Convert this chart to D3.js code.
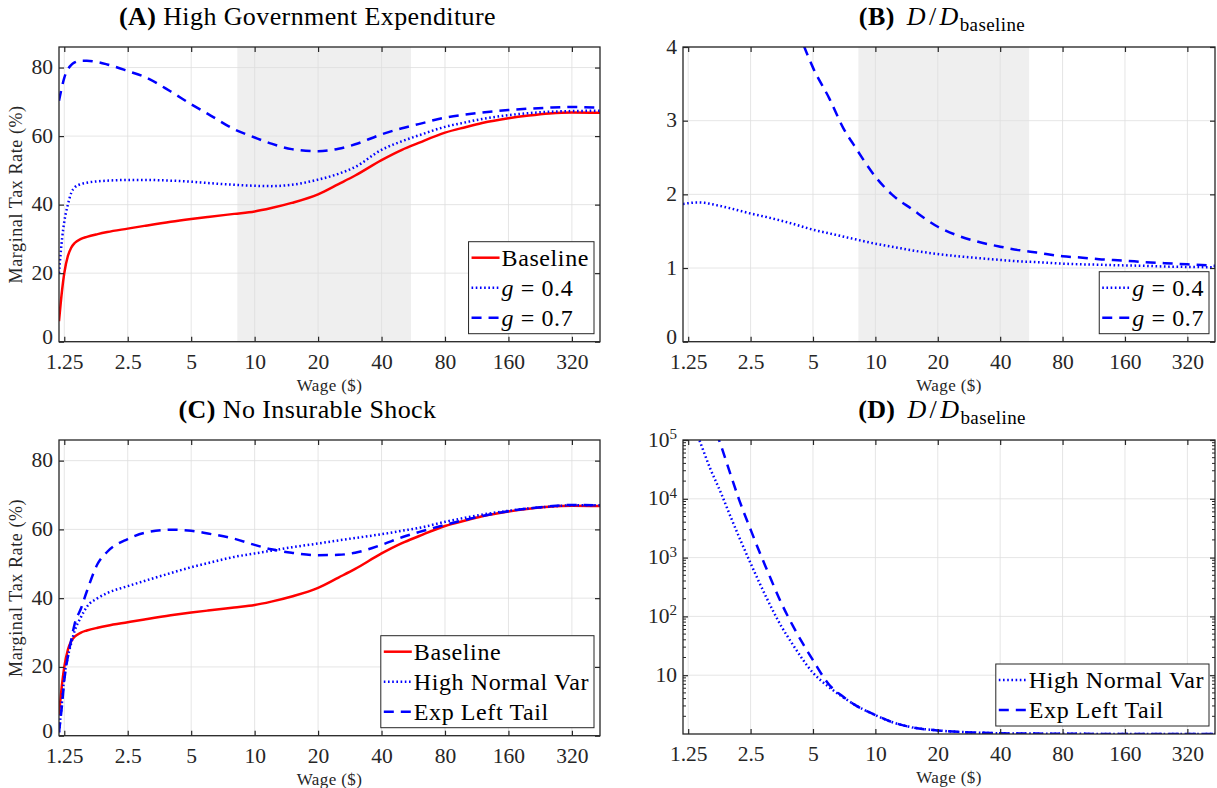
<!DOCTYPE html>
<html>
<head>
<meta charset="utf-8">
<script src="https://cdn.jsdelivr.net/npm/d3@7"></script>
<style>
  body { margin: 0; background: #fff; }
  svg text { font-family: "Liberation Serif", "DejaVu Serif", serif; fill: #262626; }
</style>
</head>
<body>
<svg id="fig" width="1217" height="788"></svg>
<script>
// ---- data ----
var xTicks = [1.25, 2.5, 5, 10, 20, 40, 80, 160, 320];
var xTickLabels = ["1.25", "2.5", "5", "10", "20", "40", "80", "160", "320"];
var shadeRange = [8.28, 55.2];

// common wage grid for panels A and C, and the g=0.4 line in B
var wage = [1.18, 1.22, 1.25, 1.3, 1.35, 1.4, 1.5, 1.6, 1.8, 2, 2.5, 3, 4, 5, 6, 8, 10, 12, 15, 20,
            25, 30, 40, 50, 60, 80, 100, 120, 160, 200, 250, 320, 435];

// (A) marginal tax rates, %
var baseline = [6, 15, 20, 25, 27.5, 28.8, 30, 30.6, 31.4, 32, 33, 33.8, 35, 35.8, 36.4, 37.3, 38, 39, 40.5, 43,
                46, 48.5, 53, 56, 58, 61, 62.6, 63.8, 65.2, 66, 66.6, 66.9, 66.8];
var g04 = [20, 30, 35, 40, 43.5, 45, 46, 46.4, 46.8, 47, 47.2, 47.2, 47, 46.7, 46.3, 45.8, 45.5, 45.4, 45.8, 47.3,
           49, 51, 56, 58.5, 60.2, 62.7, 64, 65, 66.1, 66.7, 67.1, 67.3, 67.4];
var g07 = [70.3, 74.5, 77, 79.5, 80.8, 81.5, 82, 82, 81.6, 80.9, 79, 77.3, 73, 69.3, 66.5, 62, 59.6, 57.8, 56.2, 55.6,
           56.3, 57.6, 60.5, 62.3, 63.5, 65.4, 66.3, 66.9, 67.6, 68, 68.3, 68.5, 68.3];

// (B) D / D_baseline
var ratioG04 = [1.87, 1.875, 1.88, 1.885, 1.89, 1.89, 1.885, 1.87, 1.84, 1.81, 1.74, 1.69, 1.6, 1.52, 1.47, 1.39, 1.33, 1.29, 1.24, 1.19,
                1.16, 1.14, 1.11, 1.09, 1.08, 1.06, 1.05, 1.045, 1.035, 1.03, 1.02, 1.015, 1.01];
var wageG07 = [4, 4.5, 5, 6, 7, 8, 10, 12, 15, 20, 25, 30, 40, 50, 60, 80, 100, 120, 160, 200, 250, 320, 435];
var ratioG07 = [4.45, 4.03, 3.72, 3.3, 2.9, 2.64, 2.24, 2.0, 1.8, 1.56, 1.44, 1.37, 1.29, 1.24, 1.21, 1.16, 1.14, 1.12, 1.1, 1.08, 1.065, 1.05, 1.03];

// (C) marginal tax rates, %
var highVar = [1, 10, 17, 23, 27, 30.5, 34.5, 37.5, 40, 41.5, 43.5, 45, 47.3, 49, 50.2, 52, 53, 53.8, 54.8, 55.9,
               56.8, 57.5, 58.6, 59.6, 60.4, 62.2, 63.4, 64.3, 65.4, 66.1, 66.6, 67, 67];
var expLeft = [1, 9, 16, 23, 28, 32.5, 37, 42, 50, 53.5, 57.2, 59, 59.9, 59.6, 58.8, 57.3, 55.5, 54.2, 53.2, 52.5,
               52.6, 53.2, 55.5, 57.7, 59.2, 61.3, 62.8, 63.9, 65.3, 66.1, 66.7, 67.1, 67];

// (D) D / D_baseline, log scale
var wageHV = [1.3, 1.4, 1.6, 1.8, 2, 2.5, 3, 3.5, 4, 5, 6, 7, 8, 10, 12, 15, 20, 30, 40, 60, 80, 160, 435];
var ratioHV = [2.1e5, 1.1e5, 3.2e4, 1.25e4, 5e3, 800, 200, 70, 33, 11, 6.2, 4.2, 3.1, 2.1, 1.6, 1.3, 1.15, 1.06, 1.03, 1.015, 1.01, 1.0, 1.0];
var wageEL = [1.6, 1.8, 2, 2.2, 2.5, 2.8, 3, 3.5, 4, 4.5, 5, 6, 7, 8, 10, 12, 15, 20, 30, 40, 60, 80, 160, 435];
var ratioEL = [2.5e5, 8e4, 2.6e4, 9.7e3, 3e3, 1.1e3, 620, 175, 69, 33, 18, 6.8, 4.3, 3.1, 2.1, 1.6, 1.3, 1.15, 1.06, 1.03, 1.015, 1.01, 1.0, 1.0];

var logTicks = [10, 100, 1000, 10000, 100000];

// ---- styles ----
var RED = "#ff0000", BLUE = "#0000ff", AX = "#262626", GRID = "#dedede", SHADE = "#efefef";
var styles = {
  solid:  { color: RED,  width: 2.5, dash: null },
  dotted: { color: BLUE, width: 2.5, dash: "1.6,2.6" },
  dashed: { color: BLUE, width: 2.5, dash: "10,7" }
};

var svg = d3.select("#fig");
var clipId = 0;

function zip(xs, ys) {
  return xs.map(function(d, i) { return [d, ys[i]]; });
}

function drawPanel(o) {
  var x = d3.scaleLog().base(2).domain([1.18, 435]).range([o.left, o.right]);
  var y = o.log ? d3.scaleLog().domain(o.yDomain).range([o.bottom, o.top])
                : d3.scaleLinear().domain(o.yDomain).range([o.bottom, o.top]);
  var g = svg.append("g");
  var id = "clip" + (clipId++);
  g.append("clipPath").attr("id", id).append("rect")
    .attr("x", o.left).attr("y", o.top)
    .attr("width", o.right - o.left).attr("height", o.bottom - o.top);

  if (o.shade) {
    g.append("rect")
      .attr("x", x(shadeRange[0])).attr("y", o.top)
      .attr("width", x(shadeRange[1]) - x(shadeRange[0]))
      .attr("height", o.bottom - o.top)
      .attr("fill", SHADE);
  }

  // grid
  g.selectAll(".gx").data(xTicks).enter().append("line")
    .attr("x1", function(d) { return x(d); }).attr("x2", function(d) { return x(d); })
    .attr("y1", o.top).attr("y2", o.bottom)
    .attr("stroke", GRID).attr("stroke-opacity", 0.8).attr("stroke-width", 1);
  g.selectAll(".gy").data(o.yTicks).enter().append("line")
    .attr("x1", o.left).attr("x2", o.right)
    .attr("y1", function(d) { return y(d); }).attr("y2", function(d) { return y(d); })
    .attr("stroke", GRID).attr("stroke-opacity", 0.8).attr("stroke-width", 1);

  // data lines
  var line = d3.line()
    .x(function(d) { return x(d[0]); })
    .y(function(d) { return y(d[1]); })
    .curve(d3.curveMonotoneX);
  var lg = g.append("g").attr("clip-path", "url(#" + id + ")");
  o.series.forEach(function(s) {
    var st = styles[s.style];
    lg.append("path")
      .datum(zip(s.x, s.y))
      .attr("d", line)
      .attr("fill", "none")
      .attr("stroke", st.color)
      .attr("stroke-width", st.width)
      .attr("stroke-dasharray", st.dash)
      .attr("stroke-linejoin", "round");
  });

  // axes (ticks pointing inward, MATLAB style)
  var xa = g.append("g").attr("transform", "translate(0," + o.bottom + ")")
    .call(d3.axisBottom(x).tickValues(xTicks)
      .tickFormat(function(d, i) { return xTickLabels[i]; })
      .tickSizeInner(-5).tickSizeOuter(0).tickPadding(12));
  xa.selectAll("text").style("font-size", "21.5px").style("fill", AX);
  g.append("g").attr("transform", "translate(0," + o.top + ")")
    .call(d3.axisTop(x).tickValues(xTicks).tickFormat("").tickSizeInner(-5).tickSizeOuter(0));

  var ya = g.append("g").attr("transform", "translate(" + o.left + ",0)")
    .call(d3.axisLeft(y).tickValues(o.yTicks).tickFormat("")
      .tickSizeInner(-5).tickSizeOuter(0));
  g.append("g").attr("transform", "translate(" + o.right + ",0)")
    .call(d3.axisRight(y).tickValues(o.yTicks).tickFormat("").tickSizeInner(-5).tickSizeOuter(0));

  // y tick labels (allow superscripts for the log panel); the lowest one sits a touch higher
  ya.selectAll(".tick").each(function(d, i) {
    var t = d3.select(this).append("text")
      .attr("x", -6).attr("dy", i === 0 && !o.log ? "0.1em" : "0.28em")
      .attr("text-anchor", "end")
      .style("font-size", "21.5px").style("fill", AX);
    var lab = o.yLabels[i];
    if (lab.exp) {
      t.append("tspan").text(lab.base);
      t.append("tspan").attr("dy", "-0.5em").style("font-size", "15px").text(lab.exp);
    } else {
      t.text(lab);
    }
  });

  if (o.log) {
    var minor = [];
    [1, 10, 100, 1000, 10000].forEach(function(dec) {
      for (var k = 2; k <= 9; k++) minor.push(dec * k);
    });
    [o.left, o.right].forEach(function(px, side) {
      g.selectAll(null).data(minor).enter().append("line")
        .attr("x1", px).attr("x2", px + (side ? -3 : 3))
        .attr("y1", function(d) { return y(d); }).attr("y2", function(d) { return y(d); })
        .attr("stroke", AX).attr("stroke-width", 1);
    });
  }

  g.selectAll(".domain").remove();
  g.selectAll(".tick line").attr("stroke", AX).attr("stroke-width", 1.2);

  g.append("rect")
    .attr("x", o.left).attr("y", o.top)
    .attr("width", o.right - o.left).attr("height", o.bottom - o.top)
    .attr("fill", "none").attr("stroke", AX).attr("stroke-width", 1.3);

  // axis labels
  g.append("text")
    .attr("x", (o.left + o.right) / 2).attr("y", o.bottom + 49)
    .attr("text-anchor", "middle").style("font-size", "17px")
    .style("letter-spacing", "0.4px")
    .text("Wage ($)");
  if (o.yTitle) {
    g.append("text")
      .attr("transform", "translate(22," + ((o.top + o.bottom) / 2) + ") rotate(-90)")
      .attr("text-anchor", "middle").style("font-size", "18px")
      .style("letter-spacing", "0.6px")
      .text(o.yTitle);
  }

  // title
  var tt = g.append("text")
    .attr("x", (o.left + o.right) / 2 + o.titleShift).attr("y", o.top - 22)
    .attr("text-anchor", "middle").style("font-size", "26px").style("fill", "#000")
    .style("letter-spacing", "0.4px");
  o.title.forEach(function(p) {
    var ts = tt.append("tspan").text(p.t);
    if (p.b) ts.style("font-weight", "bold");
    if (p.i) ts.style("font-style", "italic");
    if (p.dx) ts.attr("dx", p.dx);
    if (p.sub) ts.attr("dy", "0.3em").style("font-size", "19px");
  });

  // legend
  var leg = g.append("g");
  var rowH = 30;
  var texts = [];
  o.series.forEach(function(s, i) {
    var t = leg.append("text").attr("y", i * rowH).attr("dy", "0.35em")
      .style("font-size", "24px").style("fill", "#000")
      .style("letter-spacing", "0.6px");
    s.label.forEach(function(p) {
      var ts = t.append("tspan").text(p.t);
      if (p.i) ts.style("font-style", "italic");
    });
    texts.push(t);
  });
  var tw = d3.max(texts, function(t) { return t.node().getComputedTextLength(); });
  var bw = 32 + tw + 6, bh = o.series.length * rowH + 2;
  var bx = o.right - 6 - bw, by = o.bottom - 8 - bh;
  leg.insert("rect", ":first-child")
    .attr("x", bx).attr("y", by).attr("width", bw).attr("height", bh)
    .attr("fill", "#fff").attr("stroke", AX).attr("stroke-width", 1);
  o.series.forEach(function(s, i) {
    var st = styles[s.style];
    var cy = by + 16 + i * rowH;
    leg.append("line")
      .attr("x1", bx + 3).attr("x2", bx + 31).attr("y1", cy).attr("y2", cy)
      .attr("stroke", st.color).attr("stroke-width", st.width)
      .attr("stroke-dasharray", st.dash);
    texts[i].attr("x", bx + 33).attr("y", cy);
  });
}

var pctTicks = [0, 20, 40, 60, 80];
var pctLabels = ["0", "20", "40", "60", "80"];
var ratioTitle = function(tag) {
  return [{ t: tag, b: true }, { t: "D", i: true, dx: 12 }, { t: "/", dx: 3 }, { t: "D", i: true, dx: 3 },
          { t: "baseline", sub: true, dx: 1 }];
};

drawPanel({
  left: 59, right: 600, top: 47, bottom: 341.7,
  yDomain: [0, 86], yTicks: pctTicks, yLabels: pctLabels,
  yTitle: "Marginal Tax Rate (%)", shade: true, titleShift: -22,
  title: [{ t: "(A)", b: true }, { t: " High Government Expenditure" }],
  series: [
    { x: wage, y: baseline, style: "solid", label: [{ t: "Baseline" }] },
    { x: wage, y: g04, style: "dotted", label: [{ t: "g", i: true }, { t: " = 0.4" }] },
    { x: wage, y: g07, style: "dashed", label: [{ t: "g", i: true }, { t: " = 0.7" }] }
  ]
});

drawPanel({
  left: 683, right: 1215, top: 47, bottom: 341.7,
  yDomain: [0, 4], yTicks: [0, 1, 2, 3, 4], yLabels: ["0", "1", "2", "3", "4"],
  shade: true, titleShift: -7,
  title: ratioTitle("(B)"),
  series: [
    { x: wage, y: ratioG04, style: "dotted", label: [{ t: "g", i: true }, { t: " = 0.4" }] },
    { x: wageG07, y: ratioG07, style: "dashed", label: [{ t: "g", i: true }, { t: " = 0.7" }] }
  ]
});

drawPanel({
  left: 59, right: 600, top: 440, bottom: 735.7,
  yDomain: [0, 86], yTicks: pctTicks, yLabels: pctLabels,
  yTitle: "Marginal Tax Rate (%)", shade: false, titleShift: -22,
  title: [{ t: "(C)", b: true }, { t: " No Insurable Shock" }],
  series: [
    { x: wage, y: baseline, style: "solid", label: [{ t: "Baseline" }] },
    { x: wage, y: highVar, style: "dotted", label: [{ t: "High Normal Var" }] },
    { x: wage, y: expLeft, style: "dashed", label: [{ t: "Exp Left Tail" }] }
  ]
});

drawPanel({
  left: 683, right: 1215, top: 440, bottom: 734,
  log: true, yDomain: [1, 1e5], yTicks: logTicks,
  yLabels: ["10", { base: "10", exp: "2" }, { base: "10", exp: "3" }, { base: "10", exp: "4" }, { base: "10", exp: "5" }],
  shade: false, titleShift: -7,
  title: ratioTitle("(D)"),
  series: [
    { x: wageHV, y: ratioHV, style: "dotted", label: [{ t: "High Normal Var" }] },
    { x: wageEL, y: ratioEL, style: "dashed", label: [{ t: "Exp Left Tail" }] }
  ]
});
</script>
</body>
</html>
